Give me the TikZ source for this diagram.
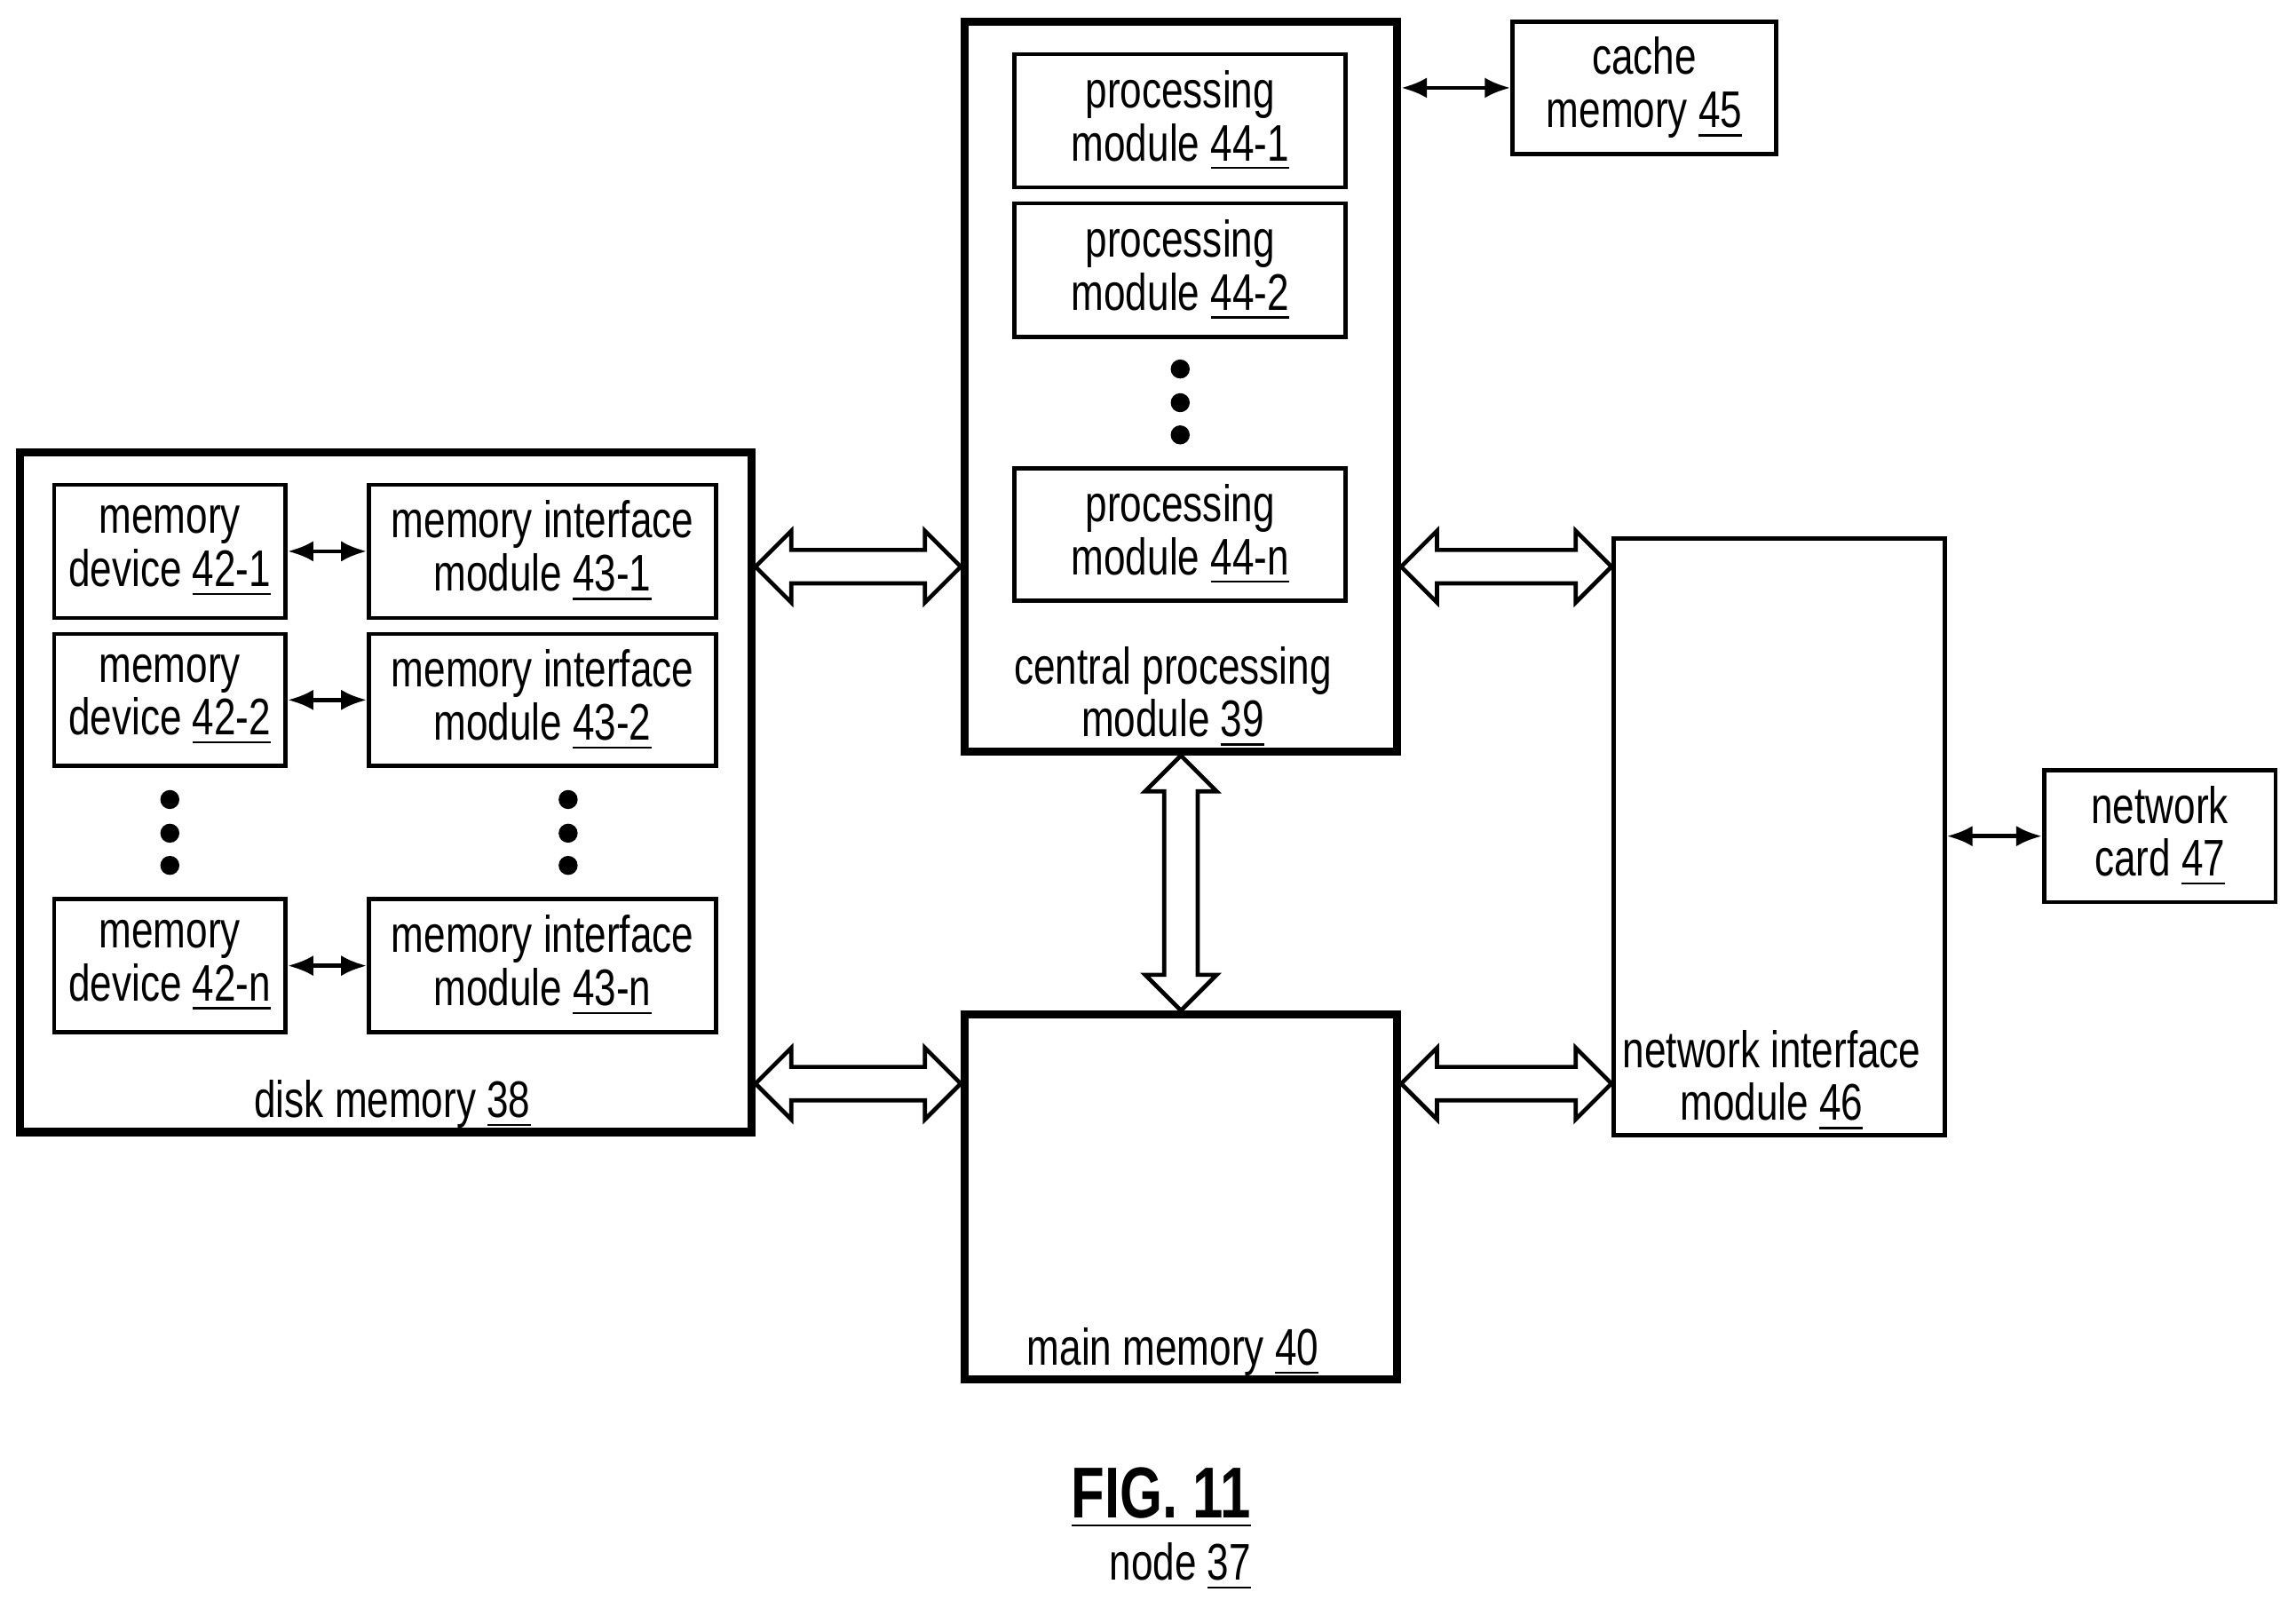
\documentclass[tikz,border=0pt]{standalone}
\usepackage{fontspec}
\setmainfont{Liberation Sans}[FakeStretch=0.76]
\usetikzlibrary{shapes.arrows,calc,arrows.meta}
\tikzset{
  box/.style={draw, line width=0.8pt, align=center, inner sep=0pt},
  bigbox/.style={draw, line width=1.6pt, inner sep=0pt},
  lbl/.style={align=center, inner sep=0pt},
  dot/.style={circle, fill, inner sep=0pt, minimum size=0.13cm},
  small/.style={{Latex[length=5pt,width=4pt]}-{Latex[length=5pt,width=4pt]}, line width=0.8pt},
  bigarrow/.style={double arrow, draw, line width=0.8pt, inner xsep=0pt, inner ysep=0.1cm,
    double arrow head extend=0.13cm}
}
\newcommand\hollowarrow[2]{%
  \path let \p1=($(#2)-(#1)$), \n1={veclen(\x1,\y1)}, \n2={atan2(\y1,\x1)} in
    node[bigarrow, minimum height=\n1, rotate=\n2] at ($(#1)!0.5!(#2)$) {};}
\begin{document}
\fontsize{10}{10.3}\selectfont
\begin{tikzpicture}[x=0.01cm, y=-0.01cm]
\useasboundingbox (0,0) rectangle (1568,1098);
% central processing module
\node[bigbox, minimum width=2.95cm, minimum height=4.98cm] (cpu) at (806.5,264) {};
\node[box, minimum width=2.26cm, minimum height=0.91cm] (p1) at (806,82.5) {processing\\module \underline{44-1}};
\node[box, minimum width=2.26cm, minimum height=0.91cm] (p2) at (806,184.5) {processing\\module \underline{44-2}};
\node[box, minimum width=2.26cm, minimum height=0.90cm] (pn) at (806,365) {processing\\module \underline{44-n}};
\foreach \y in {252,275,297} \node[dot] at (806,\y) {};
\node[lbl] (cpul) at (801,476) {central processing\\module \underline{39}};
% cache
\node[box, minimum width=1.80cm, minimum height=0.90cm] (cache) at (1123,60) {cache\\memory \underline{45}};
\draw[small] (cpu.east|-cache) -- (cache.west);
% disk memory
\node[bigbox, minimum width=4.99cm, minimum height=4.64cm] (disk) at (263.5,541) {};
\node[box, minimum width=1.58cm, minimum height=0.91cm] (d1) at (116,376.5) {memory\\device \underline{42-1}};
\node[box, minimum width=1.58cm, minimum height=0.90cm] (d2) at (116,478) {memory\\device \underline{42-2}};
\node[box, minimum width=1.58cm, minimum height=0.91cm] (dn) at (116,659.5) {memory\\device \underline{42-n}};
\node[box, minimum width=2.37cm, minimum height=0.91cm] (m1) at (370.5,376.5) {memory interface\\module \underline{43-1}};
\node[box, minimum width=2.37cm, minimum height=0.90cm] (m2) at (370.5,478) {memory interface\\module \underline{43-2}};
\node[box, minimum width=2.37cm, minimum height=0.91cm] (mn) at (370.5,659.5) {memory interface\\module \underline{43-n}};
\foreach \y in {546,569,591} {\node[dot] at (116,\y) {}; \node[dot] at (388,\y) {};}
\draw[small] (d1) -- (m1);
\draw[small] (d2) -- (m2);
\draw[small] (dn) -- (mn);
\node[lbl] (diskl) at (268,754) {disk memory \underline{38}};
% main memory
\node[bigbox, minimum width=2.95cm, minimum height=2.49cm] (main) at (806.5,817.5) {};
\node[lbl] (mainl) at (801,923) {main memory \underline{40}};
% network interface
\node[box, minimum width=2.26cm, minimum height=4.07cm] (nim) at (1215,571.5) {};
\node[lbl] (niml) at (1210,738) {network interface\\module \underline{46}};
\node[box, minimum width=1.58cm, minimum height=0.90cm] (card) at (1475,571) {network\\card \underline{47}};
\draw[small] (nim.east|-card) -- (card.west);
% hollow arrows
\coordinate (a1) at (disk.east|-0,387);  \coordinate (b1) at (cpu.west|-0,387);
\coordinate (a2) at (disk.east|-0,740);  \coordinate (b2) at (main.west|-0,740);
\coordinate (a3) at (cpu.east|-0,387);   \coordinate (b3) at (nim.west|-0,387);
\coordinate (a4) at (main.east|-0,740);  \coordinate (b4) at (nim.west|-0,740);
\hollowarrow{a1}{b1}
\hollowarrow{a2}{b2}
\hollowarrow{a3}{b3}
\hollowarrow{a4}{b4}
\hollowarrow{cpu.south}{main.north}
% caption
\node[lbl, font=\fontsize{14}{16}\selectfont\bfseries] (fig) at (793,1023) {\underline{FIG. 11}};
\node[lbl] (nodel) at (806,1070) {node \underline{37}};
\end{tikzpicture}
\end{document}
